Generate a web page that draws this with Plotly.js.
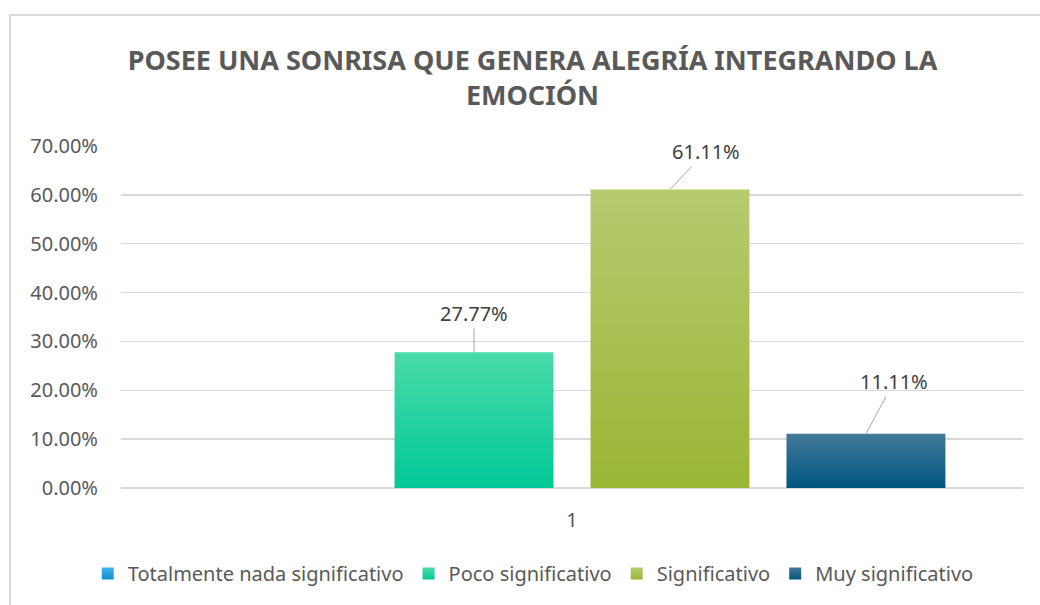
<!DOCTYPE html>
<html><head><meta charset="utf-8">
<script src="https://cdn.plot.ly/plotly-3.0.1.min.js"></script>
<style>
html,body{margin:0;padding:0;background:#fff;overflow:hidden}
#frame{position:absolute;left:9px;top:14px;width:1040px;height:700px;border:2px solid #d9d9d9;box-sizing:border-box}
#chart{position:absolute;left:0;top:0;width:1040px;height:605px}
</style></head>
<body>
<div id="frame"></div>
<div id="chart"></div>
<script>
const categories = ['1'];
const seriesNames = ['Totalmente nada significativo', 'Poco significativo', 'Significativo', 'Muy significativo'];
const values = [0, 0.2777, 0.6111, 0.1111];
const yTickValues = [0, 0.1, 0.2, 0.3, 0.4, 0.5, 0.6, 0.7];
const titleText = 'POSEE UNA SONRISA QUE GENERA ALEGRÍA INTEGRANDO LA<br>EMOCIÓN';

const baseColors = ['#1a9fe0', '#1dd6a3', '#a8c545', '#1a6289'];
const gradStops = [['#45b4ee', '#0c8fd2'], ['#4adba9', '#00c896'], ['#b6ca70', '#9ab634'], ['#44799b', '#00557f']];
const labelOffsets = [[0, 0], [0, -39], [36, -38], [28, -52]];

const FONT = '"Noto Sans", "Open Sans", sans-serif';
const bargap = 0.131, bargroupgap = 0.189;
const slot = (1 - bargap) / seriesNames.length;

const traces = seriesNames.map((name, i) => ({
  type: 'bar', name: name, x: categories, y: [values[i]],
  marker: {color: baseColors[i], line: {width: 0}},
  hoverinfo: 'skip'
}));

const annotations = [];
values.forEach((v, i) => {
  if (v <= 0) return;
  annotations.push({
    x: (i - (seriesNames.length - 1) / 2) * slot, y: v, xref: 'x', yref: 'y',
    text: (v * 100).toFixed(2) + '%',
    showarrow: true, arrowhead: 0, arrowwidth: 1, arrowcolor: '#a6a6a6',
    ax: labelOffsets[i][0], ay: labelOffsets[i][1], standoff: 0, startstandoff: 0,
    font: {family: FONT, size: 20, color: '#404040'}
  });
});

const layout = {
  width: 1040, height: 605,
  paper_bgcolor: 'rgba(0,0,0,0)', plot_bgcolor: 'rgba(0,0,0,0)',
  margin: {l: 121, r: 17, t: 146, b: 115},
  barmode: 'group', bargap: bargap, bargroupgap: bargroupgap,
  title: {text: titleText, x: 0.512, xanchor: 'center', y: 0.885, yanchor: 'middle',
    font: {family: FONT, size: 27, color: '#595959', weight: 'bold'}},
  font: {family: FONT, color: '#595959'},
  xaxis: {type: 'category', showgrid: false, zeroline: false, showline: false,
    ticks: '', ticklabelstandoff: 18, tickfont: {family: FONT, size: 20, color: '#595959'}},
  yaxis: {range: [0, 0.7], tickvals: yTickValues, tickformat: '.2%',
    showgrid: true, gridcolor: '#d9d9d9', gridwidth: 1.5, zeroline: true, zerolinecolor: '#d9d9d9', zerolinewidth: 1.5,
    showline: false, ticks: '', ticklabelstandoff: 22,
    tickfont: {family: FONT, size: 20, color: '#595959'}},
  showlegend: true,
  legend: {orientation: 'h', x: 0.457, xanchor: 'center', y: -0.25, yanchor: 'middle',
    font: {family: FONT, size: 20, color: '#595959'}, itemwidth: 30, tracegroupgap: 0,
    bgcolor: 'rgba(0,0,0,0)'},
  annotations: annotations
};

function applyGradients(gd) {
  const svg = gd.querySelector('svg.main-svg');
  if (!svg) return;
  const ns = 'http://www.w3.org/2000/svg';
  let defs = svg.querySelector('defs#bargrads');
  if (!defs) {
    defs = document.createElementNS(ns, 'defs');
    defs.setAttribute('id', 'bargrads');
    gradStops.forEach((st, i) => {
      const lg = document.createElementNS(ns, 'linearGradient');
      lg.setAttribute('id', 'bg' + i);
      lg.setAttribute('x1', '0'); lg.setAttribute('y1', '0');
      lg.setAttribute('x2', '0'); lg.setAttribute('y2', '1');
      [[0, st[0]], [1, st[1]]].forEach(([o, c]) => {
        const s = document.createElementNS(ns, 'stop');
        s.setAttribute('offset', o); s.setAttribute('stop-color', c);
        lg.appendChild(s);
      });
      defs.appendChild(lg);
    });
    svg.insertBefore(defs, svg.firstChild);
  }
  gd.querySelectorAll('.barlayer .trace').forEach((t, i) => {
    t.querySelectorAll('path').forEach(p => { p.style.fill = 'url(#bg' + i + ')'; });
  });
  gd.querySelectorAll('.legend .traces').forEach((t, i) => {
    t.querySelectorAll('.legendpoints path').forEach(p => { p.style.fill = 'url(#bg' + i + ')'; p.style.stroke = 'none'; });
  });
}

Plotly.newPlot('chart', traces, layout, {displayModeBar: false, staticPlot: true}).then(gd => applyGradients(gd));
</script>
</body></html>
